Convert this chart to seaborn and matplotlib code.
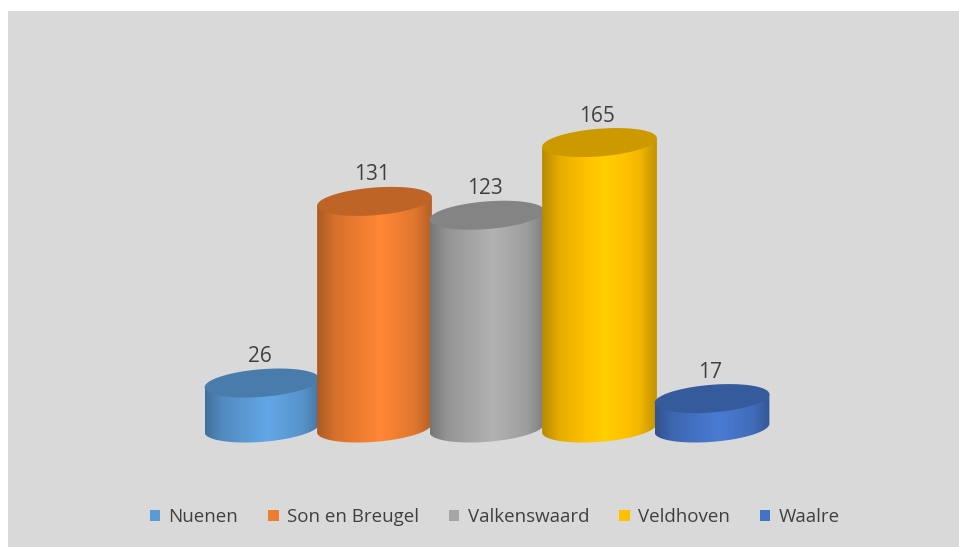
import numpy as np
import pandas as pd
import matplotlib
matplotlib.use('Agg')
import matplotlib.pyplot as plt
import seaborn as sns
from matplotlib.patches import Polygon, Rectangle, Patch
from matplotlib.colors import to_rgb

towns = ['Nuenen', 'Son en Breugel', 'Valkenswaard', 'Veldhoven', 'Waalre']
counts = [26, 131, 123, 165, 17]
colors = ['#5B9BD5', '#ED7D31', '#A5A5A5', '#FFC000', '#4472C4']

sns.set_theme(style='white')
plt.rcParams['font.family'] = ['Open Sans', 'DejaVu Sans']

fig = plt.figure(figsize=(9.59, 5.47), dpi=100, facecolor='white')
# grey chart area, white strip on top and left
fig.add_artist(Rectangle((8/959, 0), 1, 536/547, transform=fig.transFigure,
                         facecolor='#d9d9d9', edgecolor='none', zorder=-10))
ax = fig.add_axes([0, 0, 1, 1])
ax.patch.set_alpha(0)

df = pd.DataFrame({'town': towns, 'count': counts})
sns.barplot(data=df, x='town', y='count', hue='town', palette=colors,
            width=1.02, saturation=1, legend=False, ax=ax)

b = 8.0   # half height of the ellipses (data units)
s = 2.5   # tilt, right side a bit higher
t = np.linspace(0, 2*np.pi, 200)

# brightness across the cylinder, left -> right
u_pts = [0.0, 0.15, 0.55, 0.85, 1.0]
f_pts = [0.72, 0.90, 1.08, 0.95, 0.76]

def shade(c, f):
    return np.clip(np.array(to_rgb(c)) * f, 0, 1)

for i, bar in enumerate(list(ax.patches)):
    x0, w, h = bar.get_x(), bar.get_width(), bar.get_height()
    bar.set_visible(False)
    cx, a = x0 + w/2, w/2
    col = colors[i]
    z = 2 + i*0.1

    # body: flat top line, sides, lower half of base ellipse
    tb = np.linspace(0, -np.pi, 100)
    pts = [(cx - a, h - s), (cx + a, h + s)]
    pts += list(zip(cx + a*np.cos(tb), b*np.sin(tb) + s*np.cos(tb)))
    body = Polygon(pts, closed=True, facecolor='none', edgecolor='none', zorder=z)
    ax.add_patch(body)
    u = np.linspace(0, 1, 200)
    f = np.interp(u, u_pts, f_pts)
    grad = np.array([shade(col, v) for v in f])
    im = ax.imshow(grad[None, :, :], extent=[cx - a, cx + a, -b - s - 1, h + s + 1],
                   aspect='auto', interpolation='bilinear', zorder=z)
    im.set_clip_path(body)

    # top ellipse
    top = Polygon(list(zip(cx + a*np.cos(t), h + b*np.sin(t) + s*np.cos(t))),
                  closed=True, facecolor=shade(col, 0.8), edgecolor='none', zorder=z + 0.05)
    ax.add_patch(top)

    ax.text(cx - 0.02, h + np.hypot(b, s) + 0.8, str(counts[i]), ha='center', va='bottom',
            fontsize=15, color='#404040', zorder=10)

ax.set_xlim(-262/112.5, (959 - 262)/112.5)
ax.set_ylim(-119/1.73, (547 - 119)/1.73)
ax.axis('off')

handles = [Patch(facecolor=c, edgecolor='none') for c in colors]
fig.legend(handles, towns, loc='center', bbox_to_anchor=(0.516, 0.055), ncol=5,
           frameon=False, fontsize=13.5, handlelength=0.55, handleheight=0.55,
           handletextpad=0.45, columnspacing=1.6, labelcolor='#404040')

fig.savefig('out.png', dpi=100, facecolor='white')
